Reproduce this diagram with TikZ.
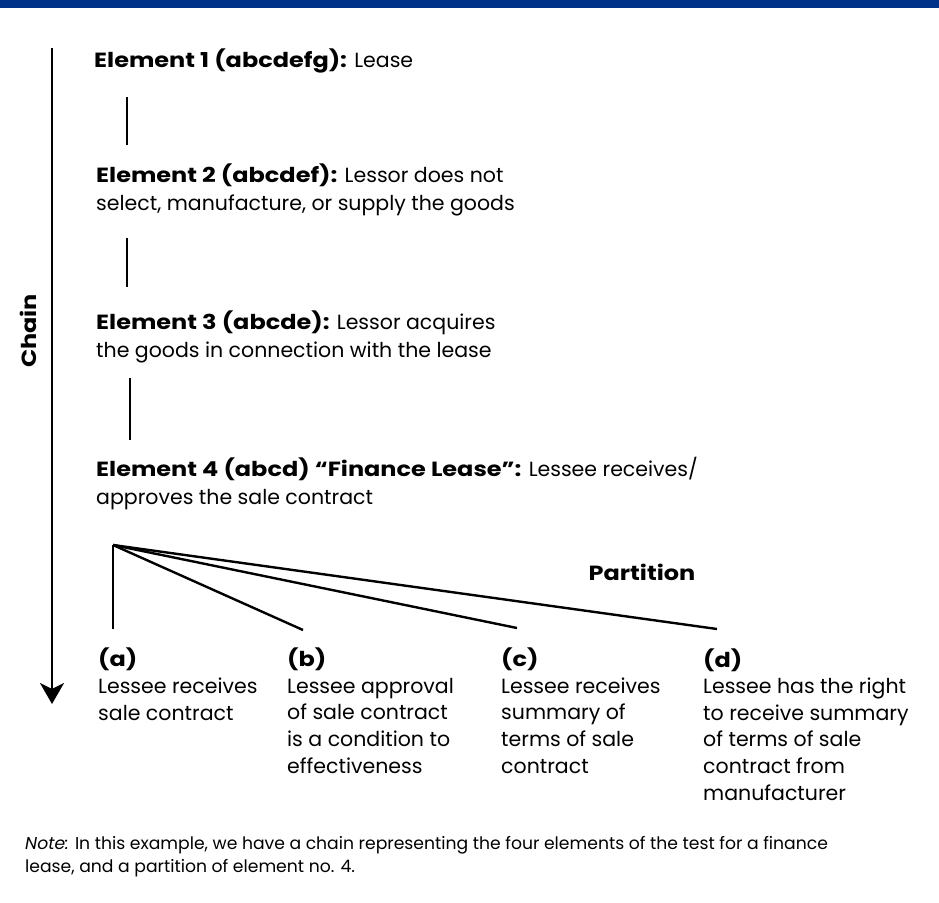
\documentclass[tikz,border=0pt]{standalone}
\usepackage{fontspec}
\setmainfont{Poppins}[BoldFeatures={FakeStretch=1.17}]
\usetikzlibrary{arrows.meta}
\definecolor{barblue}{RGB}{0,50,138}
\begin{document}
\begin{tikzpicture}[x=1pt,y=-1pt,
  txt/.style={anchor=base west, inner sep=0pt, align=left, font=\fontsize{20.5}{28}\selectfont},
  subtxt/.style={anchor=base west, inner sep=0pt, align=left, font=\fontsize{20.5}{26.6}\selectfont},
  notetxt/.style={anchor=base west, inner sep=0pt, align=left, font=\fontsize{17.2}{23}\selectfont},
  boldtxt/.style={inner sep=0pt, font=\fontsize{20.5}{24}\selectfont\bfseries},
  conn/.style={line width=2.4pt},
  chainarrow/.style={line width=2.4pt, -{Stealth[length=21pt,width=24pt,inset=6pt]}}]
\useasboundingbox (0,0) rectangle (939,902);
\fill[barblue] (0,0) rectangle (939,8);
% chain arrow
\coordinate (ctop) at (52,48);
\coordinate (cbot) at (52,704);
\draw[chainarrow] (ctop) -- (cbot);
\node[boldtxt, rotate=90] (chain) at (28,331) {Chain};
% elements (anchor = baseline of last line)
\node[txt] (e1) at (94,67) {\textbf{Element 1 (abcdefg):} Lease};
\node[txt] (e2) at (96,210) {\textbf{Element 2 (abcdef):} Lessor does not\\select, manufacture, or supply the goods};
\node[txt] (e3) at (96,357) {\textbf{Element 3 (abcde):} Lessor acquires\\the goods in connection with the lease};
\node[txt] (e4) at (96,504) {\textbf{Element 4 (abcd) \textquotedblleft Finance Lease\textquotedblright:} Lessee receives/\\approves the sale contract};
% short links
\coordinate (s1a) at (127,97);  \coordinate (s1b) at (127,145);
\coordinate (s2a) at (127,238); \coordinate (s2b) at (127,287);
\coordinate (s3a) at (130,378); \coordinate (s3b) at (130,440);
\draw[conn] (s1a) -- (s1b);
\draw[conn] (s2a) -- (s2b);
\draw[conn] (s3a) -- (s3b);
% partition fan
\coordinate (apex) at (113,545);
\coordinate (pa) at (113,629);
\coordinate (pb) at (303,630);
\coordinate (pc) at (517,628);
\coordinate (pd) at (717,629);
\draw[conn] (apex) -- (pa);
\draw[conn] (apex) -- (pb);
\draw[conn] (apex) -- (pc);
\draw[conn] (apex) -- (pd);
\node[boldtxt, anchor=base] (part) at (642,580) {Partition};
% items (anchor = baseline of last line)
\node[subtxt] (ia) at (98,720) {\textbf{(a)}\\Lessee receives\\sale contract};
\node[subtxt] (ib) at (287,773) {\textbf{(b)}\\Lessee approval\\of sale contract\\is a condition to\\effectiveness};
\node[subtxt] (ic) at (501,773) {\textbf{(c)}\\Lessee receives\\summary of\\terms of sale\\contract};
\node[subtxt] (id) at (703,800) {\textbf{(d)}\\Lessee has the right\\to receive summary\\of terms of sale\\contract from\\manufacturer};
% note
\node[notetxt] (note) at (25,872) {\textit{Note:} In this example, we have a chain representing the four elements of the test for a finance\\lease, and a partition of element no. 4.};
\end{tikzpicture}
\end{document}
